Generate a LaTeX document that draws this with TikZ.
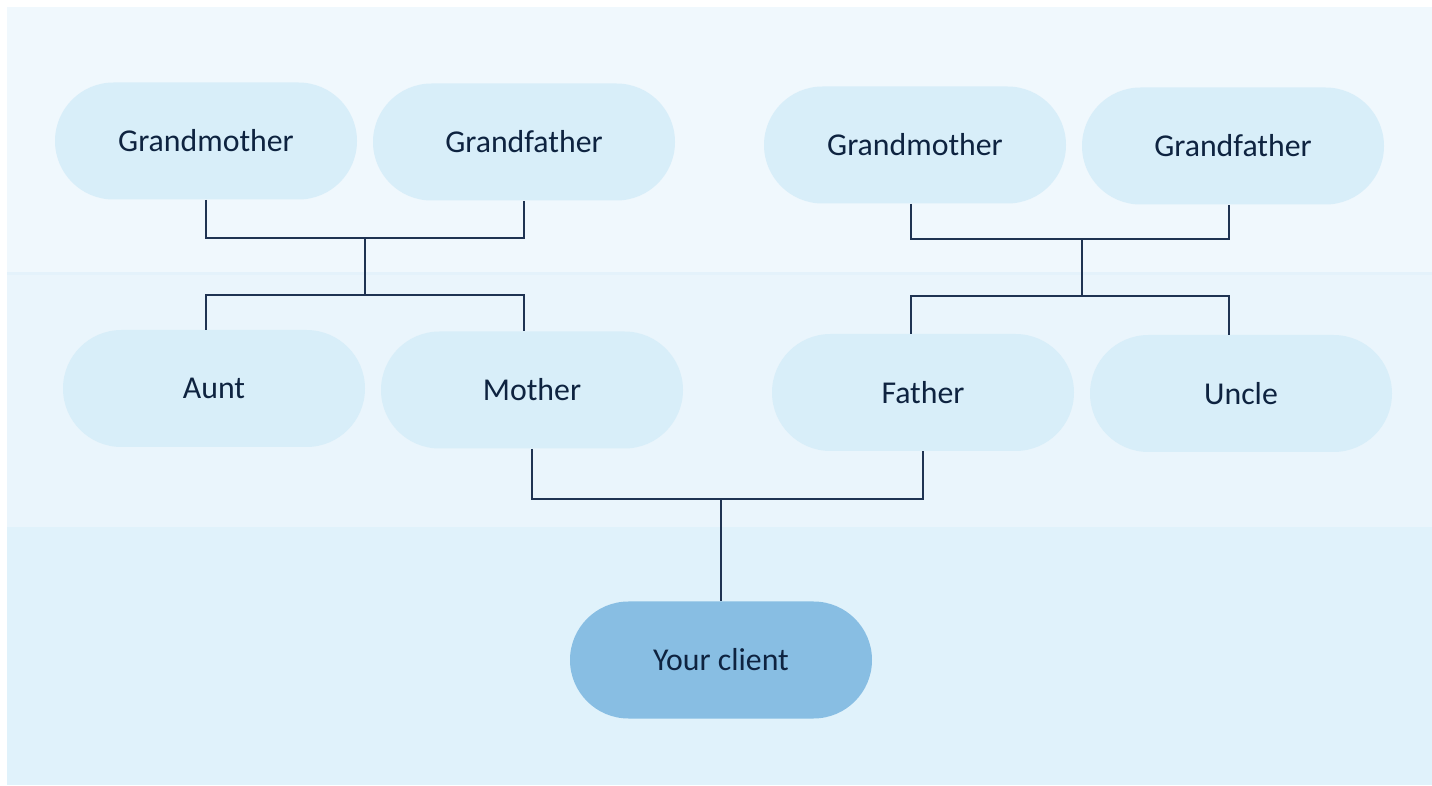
\documentclass[tikz,border=0pt]{standalone}
\usepackage{fontspec}
\setmainfont{Carlito}
\usetikzlibrary{shapes.misc}
\definecolor{bandA}{HTML}{F0F8FD}
\definecolor{bandSep}{HTML}{E4F2FB}
\definecolor{bandB}{HTML}{EAF5FC}
\definecolor{bandC}{HTML}{E0F2FB}
\definecolor{pill}{HTML}{D8EEF9}
\definecolor{pillDark}{HTML}{88BEE3}
\definecolor{ink}{HTML}{0E2340}
\definecolor{wire}{HTML}{1F3352}
\begin{document}
\begin{tikzpicture}[x=0.5pt,y=-0.5pt,
  person/.style={rounded rectangle, fill=pill, draw=none, minimum width=151pt, minimum height=58.5pt, inner sep=0pt, text=ink, font=\fontsize{15.9}{18}\selectfont},
  client/.style={person, fill=pillDark},
  link/.style={draw=wire, line width=0.65pt}]
\useasboundingbox (0,0) rectangle (1432,786);
\fill[white] (0,0) rectangle (1432,786);
\fill[bandA] (7,7) rectangle (1432,273);
\fill[bandB] (7,273) rectangle (1432,527);
\fill[bandSep] (7,272) rectangle (1432,275);
\fill[bandC] (7,527) rectangle (1432,785);

\node[person] (gm1) at (206,141) {Grandmother};
\node[person] (gf1) at (524,142) {Grandfather};
\node[person] (gm2) at (915,145) {Grandmother};
\node[person] (gf2) at (1233,146) {Grandfather};
\node[person] (aunt) at (214,388.5) {Aunt};
\node[person] (mother) at (532,390) {Mother};
\node[person] (father) at (923,392.5) {Father};
\node[person] (uncle) at (1241,393.5) {Uncle};
\node[client] (you) at (721,660) {Your client};

% left grandparents
\coordinate (l1) at (206,238);
\coordinate (l2) at (524,238);
\coordinate (lm) at (365,238);
\coordinate (lm2) at (365,295);
\coordinate (l3) at (206,295);
\coordinate (l4) at (524,295);
\draw[link] (gm1.south -| l1) -- (l1) -- (l2) -- (gf1.south -| l2);
\draw[link] (lm) -- (lm2);
\draw[link] (aunt.north -| l3) -- (l3) -- (l4) -- (mother.north -| l4);

% right grandparents
\coordinate (r1) at (911,239);
\coordinate (r2) at (1229,239);
\coordinate (rm) at (1082,239);
\coordinate (rm2) at (1082,296);
\coordinate (r3) at (911,296);
\coordinate (r4) at (1229,296);
\draw[link] (gm2.south -| r1) -- (r1) -- (r2) -- (gf2.south -| r2);
\draw[link] (rm) -- (rm2);
\draw[link] (father.north -| r3) -- (r3) -- (r4) -- (uncle.north -| r4);

% parents to client
\coordinate (p1) at (532,499);
\coordinate (p2) at (923,499);
\coordinate (pm) at (721,499);
\draw[link] (mother.south) -- (p1) -- (p2) -- (father.south);
\draw[link] (pm) -- (you.north);
\end{tikzpicture}
\end{document}
